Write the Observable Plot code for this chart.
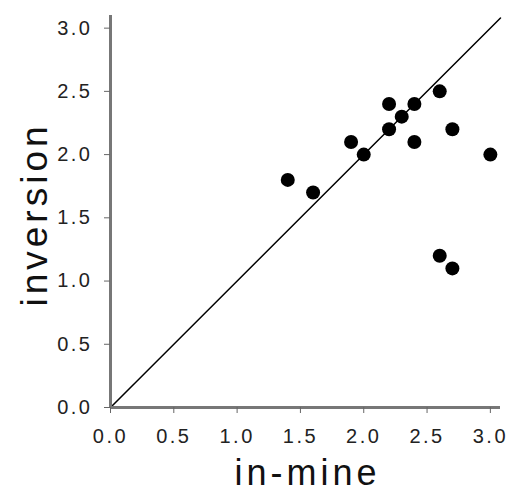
<!DOCTYPE html>
<html>
<head>
<meta charset="utf-8">
<script src="https://cdn.jsdelivr.net/npm/d3@7"></script>
<script src="https://cdn.jsdelivr.net/npm/@observablehq/plot@0.6"></script>
<style>
  html, body { margin: 0; padding: 0; background: #fff; }
  svg g[aria-label$="tick label"] { letter-spacing: 2.5px; }
  svg [aria-label="xtitle"] { letter-spacing: 4px; }
  svg [aria-label="ytitle"] { letter-spacing: 4px; }
</style>
</head>
<body>
<div id="chart"></div>
<script>
const inMine    = [1.4, 1.6, 1.9, 2.0, 2.2, 2.2, 2.3, 2.4, 2.4, 2.6, 2.7, 3.0, 2.6, 2.7];
const inversion = [1.8, 1.7, 2.1, 2.0, 2.4, 2.2, 2.3, 2.4, 2.1, 2.5, 2.2, 2.0, 1.2, 1.1];
const tickValues = [0, 0.5, 1.0, 1.5, 2.0, 2.5, 3.0];
const diagonal = [0, 3.08];
const xTitle = "in-mine";
const yTitle = "inversion";

const points = inMine.map((x, i) => ({x, y: inversion[i]}));

const chart = Plot.plot({
  width: 510,
  height: 492,
  marginTop: 15,
  marginRight: 10,
  marginBottom: 85,
  marginLeft: 110,
  style: {fontFamily: "'Liberation Sans', Arial, sans-serif", background: "#fff"},
  x: {domain: [0, 3.08]},
  y: {domain: [0, 3.1]},
  marks: [
    Plot.line(diagonal, {x: d => d, y: d => d, stroke: "#000", strokeWidth: 1.5}),
    Plot.ruleX([0], {stroke: "#777", strokeWidth: 3}),
    Plot.ruleY([0], {stroke: "#777", strokeWidth: 3}),
    Plot.axisX({ticks: tickValues, tickFormat: d3.format(".1f"), tickSize: 6, tickPadding: 15,
      fontSize: 20, label: null, stroke: "#666", fill: "#222"}),
    Plot.axisY({ticks: tickValues, tickFormat: d3.format(".1f"), tickSize: 6, tickPadding: 12,
      fontSize: 20, label: null, stroke: "#666", fill: "#222"}),
    Plot.dot(points, {x: "x", y: "y", r: 7, fill: "#000", stroke: "none"}),
    Plot.text([xTitle], {frameAnchor: "bottom", lineAnchor: "bottom", textAnchor: "middle", dy: 77, dx: 2,
      fontSize: 36, fill: "#111", ariaLabel: () => "xtitle", text: d => d}),
    Plot.text([yTitle], {frameAnchor: "left", lineAnchor: "bottom", textAnchor: "middle", rotate: -90, dx: -64, dy: 3,
      fontSize: 37, fill: "#111", ariaLabel: () => "ytitle", text: d => d})
  ]
});
document.getElementById("chart").appendChild(chart);
</script>
</body>
</html>
